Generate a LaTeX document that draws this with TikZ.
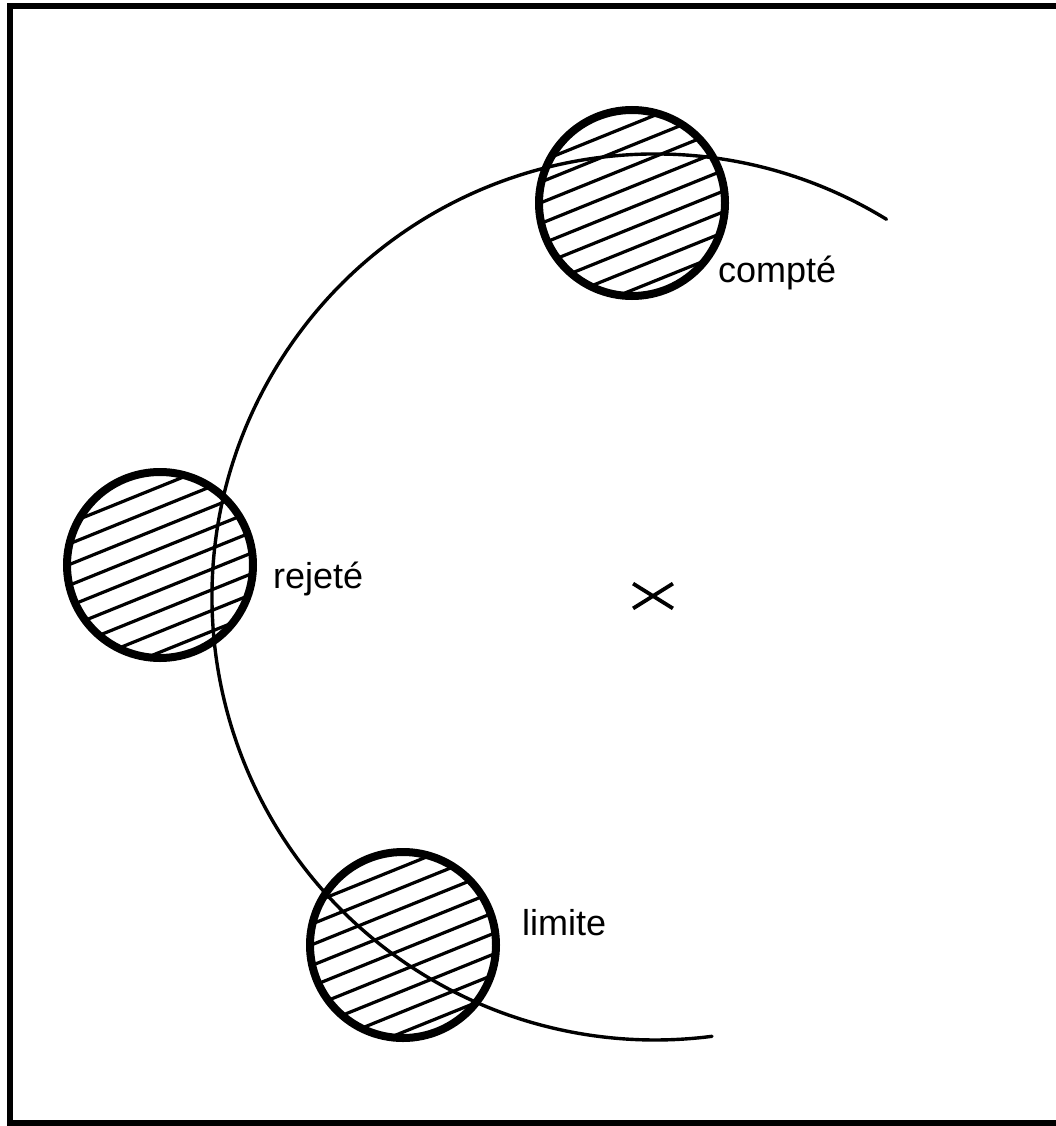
\documentclass[tikz,border=0pt]{standalone}
\usepackage{fontspec}
\setmainfont{Liberation Sans}
\usetikzlibrary{shapes.misc}
\tikzset{
  ball/.style={circle, draw, line width=8pt, minimum size=186pt, inner sep=0pt,
    path picture={
        \foreach \i in {-6,...,6} {\draw[hatchline] ([shift={(68:\i*19.2+4)}]path picture bounding box.center) ++(158:130) -- ++(-22:260);}
      }},
  hatchline/.style={line width=3.2pt},
  arcline/.style={line width=3.4pt, line cap=round},
  lbl/.style={anchor=base west, inner sep=0pt, font=\fontsize{36}{40}\selectfont},
  frameline/.style={line width=6pt}
}
\begin{document}
\begin{tikzpicture}[x=1pt,y=-1pt]
\useasboundingbox (0,0) rectangle (1056,1126);
\fill[white] (0,0) rectangle (1056,1126);
\draw[frameline] (10,6) rectangle (1075,1123);
% centre
\node[cross out, draw, line width=3.8pt, minimum width=36pt, minimum height=21pt, inner sep=0pt] (ctr) at (653,596) {};
% hatched discs
\node[ball] (compte) at (632,203) {};
\node[ball] (rejete) at (160,565) {};
\node[ball] (limite) at (403,945) {};
% main arc
\coordinate (arcstart) at ([shift={(-58.5:443)}]655,597);
\draw[arcline] (arcstart) arc[start angle=-58.5, end angle=-277.4, radius=443];
% labels
\node[lbl] (tcompte) at (718,282) {compté};
\node[lbl] (trejete) at (273,588) {rejeté};
\node[lbl] (tlimite) at (522,935) {limite};
\end{tikzpicture}
\end{document}
